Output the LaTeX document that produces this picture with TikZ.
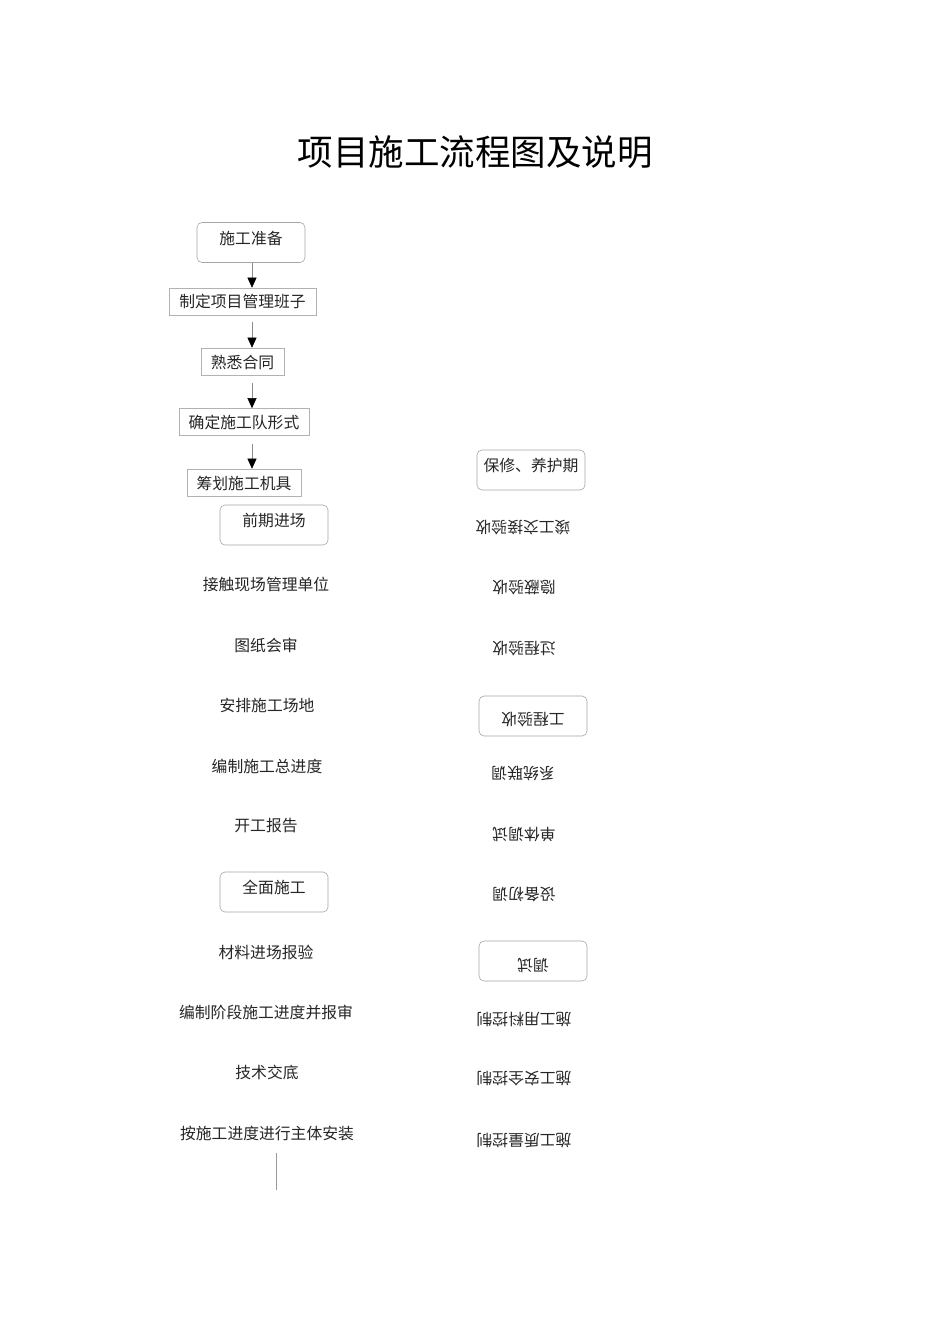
\documentclass[tikz,border=0pt]{standalone}
\usepackage{fontspec}
\usetikzlibrary{arrows.meta}
\newfontfamily\cjk{Noto Sans CJK SC}
\begin{document}
\begin{tikzpicture}[x=1pt,y=-1pt,
  lbl/.style={font=\cjk\fontsize{15.8}{18}\selectfont, text=black!85, inner sep=0pt},
  rbox/.style={draw=black!35, line width=0.6pt, rounded corners=5pt, minimum width=108pt, minimum height=40pt, inner sep=0pt},
  sbox/.style={draw=black!30, line width=0.6pt, minimum height=27pt, inner sep=0pt},
  flow/.style={draw=black!45, line width=0.5pt, -{Triangle[length=10pt,width=9pt,color=black]}}
]
\fill[white] (0,0) rectangle (950,1344);
\node[font=\cjk\fontsize{35.5}{40}\selectfont, inner sep=0pt] (title) at (475,152) {项目施工流程图及说明};

% left column top chain
\coordinate (ax) at (252,0);
\node[rbox, label={[lbl,yshift=4.5pt]center:施工准备}] (prep) at (251,242.5) {};
\node[sbox, minimum width=147pt] (team) at (242.5,301.5) {};
\node[lbl] (teamt) at (242.5,301.5) {制定项目管理班子};
\node[sbox, minimum width=83pt] (contract) at (242.5,361.5) {};
\node[lbl] at (242.5,362) {熟悉合同};
\node[sbox, minimum width=130pt] (crew) at (244,422) {};
\node[lbl] at (244,422) {确定施工队形式};
\node[sbox, minimum width=114pt] (mach) at (244,482.5) {};
\node[lbl] at (244,483) {筹划施工机具};

\draw[flow] (prep.south -| ax) -- (team.north -| ax);
\draw[flow, shorten <=7pt] (team.south -| ax) -- (contract.north -| ax);
\draw[flow, shorten <=8pt] (contract.south -| ax) -- (crew.north -| ax);
\draw[flow, shorten <=8pt] (crew.south -| ax) -- (mach.north -| ax);

\node[rbox, label={[lbl,yshift=5pt]center:前期进场}] (early) at (274,525) {};
\node[lbl] (e1) at (266,584) {接触现场管理单位};
\node[lbl] (e2) at (266,645) {图纸会审};
\node[lbl] (e3) at (267,705) {安排施工场地};
\node[lbl] (e4) at (267,766) {编制施工总进度};
\node[lbl] (e5) at (266,826) {开工报告};

\node[rbox, label={[lbl,yshift=5pt]center:全面施工}] (full) at (274,892) {};
\node[lbl] (f1) at (266,952) {材料进场报验};
\node[lbl] (f2) at (266,1012) {编制阶段施工进度并报审};
\node[lbl] (f3) at (267,1072) {技术交底};
\node[lbl] (f4) at (267,1133) {按施工进度进行主体安装};
\coordinate (lend) at (276,1190);
\draw[draw=black!40, line width=0.5pt] (f4.south -| lend) ++(0,12) -- (lend);

% right column
\node[rbox, label={[lbl,yshift=4.5pt]center:保修、养护期}] (warr) at (531,470) {};
\node[lbl, rotate=180] (r1) at (523,528) {竣工交接验收};
\node[lbl, rotate=180] (r2) at (524,588) {隐蔽验收};
\node[lbl, rotate=180] (r3) at (524,649) {过程验收};
\node[rbox] (acc) at (533,716) {};
\node[lbl, rotate=180] at (533,720) {工程验收};
\node[lbl, rotate=180] (r4) at (523,773) {系统联调};
\node[lbl, rotate=180] (r5) at (524,834) {单体调试};
\node[lbl, rotate=180] (r6) at (524,894) {设备初调};
\node[rbox] (test) at (533,961) {};
\node[lbl, rotate=180] at (533,965) {调试};
\node[lbl, rotate=180] (r7) at (524,1019) {施工用料控制};
\node[lbl, rotate=180] (r8) at (524,1079) {施工安全控制};
\node[lbl, rotate=180] (r9) at (524,1140) {施工质量控制};
\end{tikzpicture}
\end{document}
